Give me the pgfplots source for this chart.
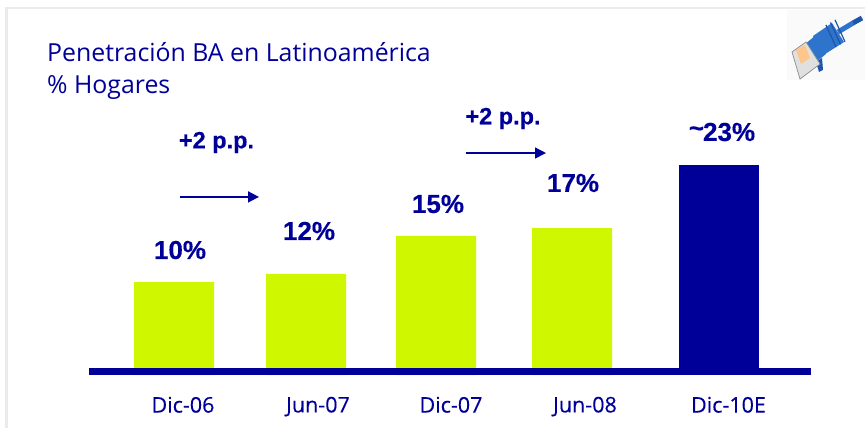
\documentclass[border=0pt]{standalone}
\usepackage{fontspec}
\setmainfont{Liberation Sans}
\newfontfamily\lightfont{Open Sans}
\newfontfamily\tickfont[FakeBold=0.25]{Open Sans}
\newfontfamily\heavyfont[FakeBold=0.3]{Liberation Sans Bold}
\usepackage{pgfplots}
\pgfplotsset{compat=1.18}
\usetikzlibrary{arrows.meta}
\definecolor{navy}{HTML}{000099}
\definecolor{lime}{HTML}{CFF800}
\definecolor{plug}{HTML}{2E74CC}
\definecolor{plugdark}{HTML}{1F55A8}
% bar heights, in percentage points above the baseline
\newcommand{\Y}[1]{(371-#1)/8.96}
\begin{document}
\begin{tikzpicture}
\useasboundingbox (0,-38pt) rectangle (865pt,390pt);
\begin{axis}[
    at={(0,0)}, anchor=south west,
    scale only axis, width=865pt, height=390pt,
    xmin=0, xmax=865, ymin=-2.12, ymax=41.41,
    clip=false,
    axis line style={draw=none},
    tick style={draw=none},
    ytick=\empty,
    xtick={183,318,451,585,728.5},
    xticklabels={Dic-06,Jun-07,Dic-07,Jun-08,Dic-10E},
    xticklabel style={font=\tickfont\fontsize{21.5}{21.5}\selectfont, text=navy, yshift=1pt},
    ybar, bar width=80, bar shift=0pt,
]
    \addplot[fill=lime, draw=none] coordinates {(174,9.93) (306,10.83) (436,15.07) (572,15.96)};
    \addplot[fill=lime, draw=none] coordinates {(174,-0.45) (306,-0.45) (436,-0.45) (572,-0.45)};
    \addplot[sharp plot, draw=navy, line width=7pt] coordinates {(89,0) (811,0)};
    \addplot[fill=navy, draw=none] coordinates {(719,22.99)};
    \addplot[fill=navy, draw=none] coordinates {(719,-0.45)};
    % p.p. arrows
    \addplot[sharp plot, draw=navy, line width=1.6pt, -{Triangle[length=11pt,width=11pt]}] coordinates {(180,19.43) (259,19.43)};
    \addplot[sharp plot, draw=navy, line width=1.6pt, -{Triangle[length=11pt,width=11pt]}] coordinates {(466,24.33) (546,24.33)};
    % labels
    \begin{scope}[every node/.style={text=navy, font=\heavyfont\fontsize{26}{26}\selectfont}]
    \node at (axis cs:180,{\Y{250}}) {10\%};
    \node at (axis cs:309,{\Y{231}}) {12\%};
    \node at (axis cs:438,{\Y{204}}) {15\%};
    \node at (axis cs:573,{\Y{183}}) {17\%};
    \node at (axis cs:722,{\Y{132}}) {\raisebox{4pt}{\char`\~}\kern-1pt 23\%};
    \end{scope}
    \begin{scope}[every node/.style={text=navy, font=\heavyfont\fontsize{23.5}{23.5}\selectfont}]
    \node at (axis cs:216.5,{\Y{142.5}}) {+2 p.p.};
    \node at (axis cs:503,{\Y{118.5}}) {+2 p.p.};
    \end{scope}
\end{axis}
% frame, title and connector in picture pixels
\begin{scope}[shift={(0,390pt)}, x=1pt, y=-1pt]
    \fill[black!8] (5,7) rectangle (865,9.5);
    \fill[black!8] (5,7) rectangle (7.5,428);
    \node[anchor=base west, inner sep=0pt, text=navy, font=\lightfont\fontsize{24.85}{24.85}\selectfont] at (47,62) {Penetración BA en Latinoamérica};
    \node[anchor=base west, inner sep=0pt, text=navy, font=\lightfont\fontsize{24.85}{24.85}\selectfont] at (47,94) {\% Hogares};
    % connector
    \fill[black!2] (787,10) rectangle (865,80);
    \draw[plug, line width=5pt] (838,32) -- (853,23);
    \draw[plugdark, line width=5pt] (853,23) -- (862,18);
    \fill[plug] (813,36) -- (832,23) -- (844,42) -- (822,56) -- cycle;
    \foreach \i in {0,1,2} {
      \draw[plugdark, line width=1.2pt] ({826+\i*4.5},{25-\i*2.6}) -- ({836+\i*4.5},{47-\i*2.6});
    }
    \fill[plug] (804,45) -- (816,35) -- (826,54) -- (815,63) -- cycle;
    \fill[plugdark] (816,62) -- (822,58) -- (823,70) -- (819,72) -- cycle;
    \fill[black!12] (792,52) -- (806,42) -- (820,64) -- (800,79) -- cycle;
    \fill[orange!45] (796,50) -- (805,45) -- (810,58) -- (801,64) -- cycle;
    \draw[black!45, line width=0.7pt] (792,52) -- (806,42) -- (820,64) -- (800,79) -- cycle;
\end{scope}
\end{tikzpicture}
\end{document}
